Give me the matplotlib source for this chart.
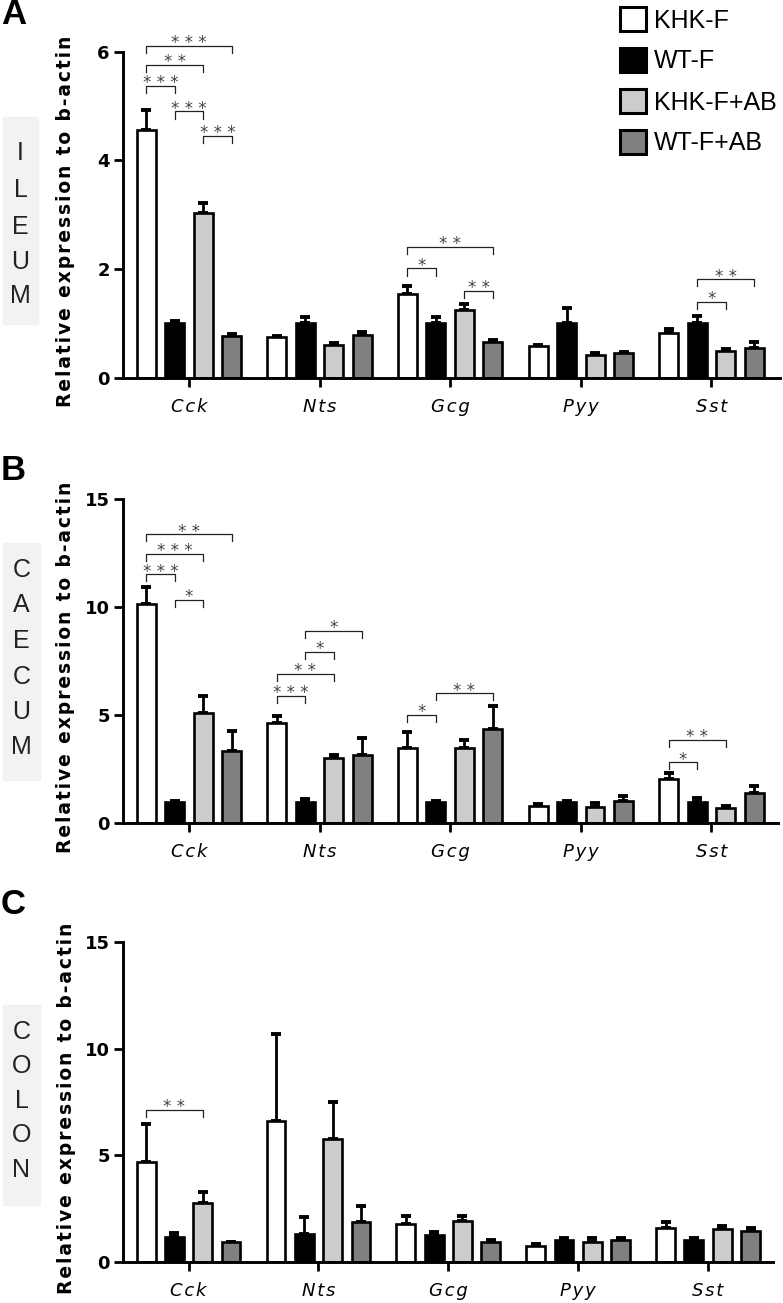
import numpy as np
import matplotlib
matplotlib.use('Agg')
import matplotlib.pyplot as plt
from matplotlib.patches import Patch, Rectangle

# data
genes = ['Cck', 'Nts', 'Gcg', 'Pyy', 'Sst']
groups = ['KHK-F', 'WT-F', 'KHK-F+AB', 'WT-F+AB']
colors = ['white', 'black', '#cccccc', '#808080']

# mean and upper error end (mean + sem), one row per group, one column per gene
ileum_mean = [[4.56, 0.74, 1.54, 0.59, 0.82],
              [1.00, 1.00, 1.00, 1.00, 1.00],
              [3.03, 0.60, 1.25, 0.41, 0.49],
              [0.76, 0.79, 0.66, 0.46, 0.54]]
ileum_top = [[4.93, 0.77, 1.68, 0.61, 0.89],
             [1.05, 1.12, 1.12, 1.28, 1.14],
             [3.22, 0.64, 1.36, 0.46, 0.52],
             [0.80, 0.85, 0.69, 0.48, 0.66]]

caecum_mean = [[10.15, 4.66, 3.47, 0.80, 2.05],
               [1.00, 1.00, 1.00, 1.00, 1.00],
               [5.12, 3.04, 3.50, 0.74, 0.72],
               [3.35, 3.16, 4.37, 1.05, 1.39]]
caecum_top = [[10.95, 4.98, 4.24, 0.88, 2.31],
              [1.02, 1.12, 1.03, 1.02, 1.19],
              [5.89, 3.16, 3.86, 0.93, 0.80],
              [4.27, 3.96, 5.43, 1.26, 1.73]]

colon_mean = [[4.67, 6.60, 1.78, 0.78, 1.62],
              [1.20, 1.31, 1.28, 1.04, 1.04],
              [2.76, 5.78, 1.93, 0.96, 1.54],
              [0.93, 1.90, 0.96, 1.04, 1.46]]
colon_top = [[6.46, 10.70, 2.18, 0.85, 1.90],
             [1.35, 2.13, 1.43, 1.15, 1.16],
             [3.30, 7.48, 2.16, 1.16, 1.71],
             [0.96, 2.63, 1.04, 1.12, 1.59]]

# significance brackets: (gene, group a, group b, height, stars)
ileum_sig = [(0, 0, 3, 6.11, '***'), (0, 0, 2, 5.76, '**'), (0, 0, 1, 5.37, '***'),
             (0, 1, 2, 4.90, '***'), (0, 2, 3, 4.45, '***'),
             (2, 0, 3, 2.41, '**'), (2, 0, 1, 2.01, '*'), (2, 2, 3, 1.60, '**'),
             (4, 1, 3, 1.81, '**'), (4, 1, 2, 1.40, '*')]
caecum_sig = [(0, 0, 3, 13.38, '**'), (0, 0, 2, 12.47, '***'), (0, 0, 1, 11.53, '***'),
              (0, 1, 2, 10.34, '*'),
              (1, 1, 3, 8.92, '*'), (1, 1, 2, 7.92, '*'), (1, 0, 2, 6.91, '**'),
              (1, 0, 1, 5.91, '***'),
              (2, 1, 3, 6.02, '**'), (2, 0, 1, 5.01, '*'),
              (4, 0, 2, 3.86, '**'), (4, 0, 1, 2.82, '*')]
colon_sig = [(0, 0, 2, 7.12, '**')]

W, H = 783, 1303
BAR_W = 0.145
PITCH = 0.218
HAIR = '\u200a'


def fx(px):
    return px / W


def fy(py):
    return 1 - py / H


def spaced(s):
    # loose letter spacing like the original figure
    return HAIR.join(s)


def draw_panel(ax, mean, top, sig, ymax, yticks, drop, xright):
    x = np.arange(len(genes))
    for i in range(len(groups)):
        xs = x + (i - 1.5) * PITCH
        m = np.array(mean[i])
        e = np.array(top[i]) - m
        ax.errorbar(xs, m, yerr=[np.zeros_like(e), e], fmt='none', ecolor='black',
                    elinewidth=2.0, capsize=3.3, capthick=2.8, zorder=1)
        ax.bar(xs, m, BAR_W, color=colors[i], edgecolor='black', linewidth=1.9, zorder=2)

    for g, a, b, yy, lab in sig:
        xa = g + (a - 1.5) * PITCH
        xb = g + (b - 1.5) * PITCH
        ax.plot([xa, xa, xb, xb], [yy - drop, yy, yy, yy - drop], color='#222222',
                lw=0.9, clip_on=False, zorder=3)
        ax.annotate(' '.join(lab), ((xa + xb) / 2, yy), xytext=(0, -4.5),
                    textcoords='offset points', ha='center', va='bottom',
                    fontsize=12, color='#444444', annotation_clip=False)

    ax.set_xlim(-0.505, xright)
    ax.set_ylim(0, ymax)
    ax.set_yticks(yticks)
    ax.set_xticks(x)
    ax.set_xticklabels([spaced(g) for g in genes], fontstyle='italic', fontsize=13)
    for lab in ax.get_yticklabels():
        lab.set_fontweight('bold')
    ax.tick_params(axis='y', labelsize=13, width=2, length=6.5, pad=3)
    ax.tick_params(axis='x', width=2, length=6.5, pad=8)
    for s in ['top', 'right']:
        ax.spines[s].set_visible(False)
    for s in ['left', 'bottom']:
        ax.spines[s].set_linewidth(2.1)
    ax.set_ylabel(spaced('Relative expression to b-actin'), fontsize=13.5,
                  fontweight='bold')
    ax.yaxis.set_label_coords(-0.073, 0.48)


def side_label(fig, word, x0, x1, y0, y1, ys):
    fig.patches.append(Rectangle((fx(x0), fy(y1)), fx(x1) - fx(x0), fy(y0) - fy(y1),
                                 transform=fig.transFigure, color='#f2f2f2', zorder=0))
    for ch, yy in zip(word, ys):
        fig.text(fx((x0 + x1) / 2), fy(yy), ch, ha='center', va='center',
                 fontsize=18, family='Liberation Sans', color='#222222')


fig = plt.figure(figsize=(W / 100, H / 100), dpi=100)

axA = fig.add_axes([fx(123), fy(377.7), fx(780) - fx(123), fy(51.7) - fy(377.7)])
axB = fig.add_axes([fx(123), fy(823.3), fx(778) - fx(123), fy(499.3) - fy(823.3)])
axC = fig.add_axes([fx(123), fy(1262.3), fx(773) - fx(123), fy(941.7) - fy(1262.3)])

draw_panel(axA, ileum_mean, ileum_top, ileum_sig, 6, [0, 2, 4, 6], 0.13, 4.525)
draw_panel(axB, caecum_mean, caecum_top, caecum_sig, 15, [0, 5, 10, 15], 0.32, 4.51)
draw_panel(axC, colon_mean, colon_top, colon_sig, 15, [0, 5, 10, 15], 0.33, 4.50)

# panel letters
for lab, py in [('A', 14), ('B', 470), ('C', 905)]:
    fig.text(fx(1), fy(py), lab, fontsize=25, fontweight='bold',
             family='Liberation Sans', ha='left', va='center')

side_label(fig, 'ILEUM', 3, 38, 117, 324, [153, 190, 227, 262, 296])
side_label(fig, 'CAECUM', 3, 40, 543, 780, [570, 605, 641, 677, 712, 747])
side_label(fig, 'COLON', 3, 40, 1005, 1205, [1032, 1066, 1101, 1135, 1170])

handles = [Patch(facecolor=c, edgecolor='black', linewidth=2.2) for c in colors]
fig.legend(handles, groups, loc='upper left', bbox_to_anchor=(fx(620), fy(7)),
           frameon=False, prop={'family': 'Liberation Sans', 'size': 18},
           handlelength=1.05, handleheight=1.1, labelspacing=0.62,
           handletextpad=0.3, borderpad=0, borderaxespad=0)

fig.savefig('out.png', dpi=100)
